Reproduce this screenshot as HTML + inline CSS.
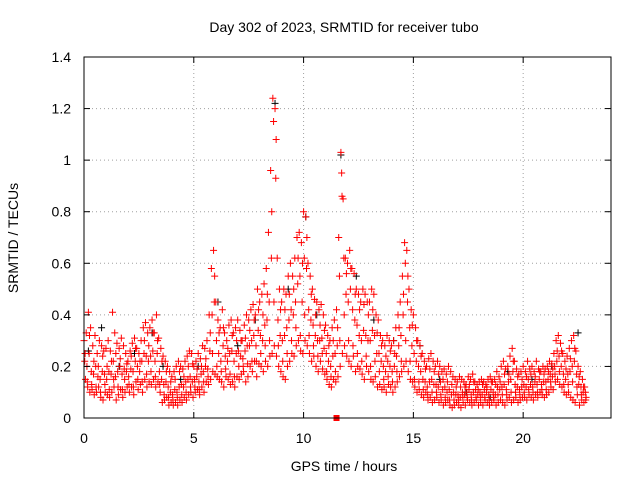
<!DOCTYPE html>
<html><head><meta charset="utf-8"><style>
body{margin:0;background:#fff}
svg text{font-family:"Liberation Sans",sans-serif;font-size:14px;fill:#000}
</style></head><body>
<svg id="chart" width="640" height="480" xmlns="http://www.w3.org/2000/svg">
<rect width="640" height="480" fill="#fff"/>
<g id="grid"></g>
<g id="black"></g>
<g id="red"></g>
<rect x="84" y="57" width="527" height="361" fill="none" stroke="#000" stroke-width="1"/>
<g id="axes"></g>
<text x="344" y="32" text-anchor="middle">Day 302 of 2023, SRMTID for receiver tubo</text>
<text x="344" y="471" text-anchor="middle">GPS time / hours</text>
<text transform="translate(18,238) rotate(-90)" text-anchor="middle">SRMTID / TECUs</text>
</svg>
<script>
const xTicks=[0,5,10,15,20];
const yTicks=[0,0.2,0.4,0.6,0.8,1,1.2,1.4];
const yTickLabels=["0","0.2","0.4","0.6","0.8","1","1.2","1.4"];
const binStart=0, binStep=0.1;
const hi=[.30,.33,.41,.35,.28,.32,.25,.30,.28,.26,
.27,.30,.26,.41,.33,.29,.27,.31,.28,.25,
.22,.26,.29,.31,.27,.25,.30,.35,.37,.33,
.35,.38,.33,.40,.31,.27,.24,.22,.20,.18,
.16,.18,.20,.22,.20,.19,.22,.24,.26,.25,
.20,.22,.25,.23,.28,.27,.30,.40,.58,.65,
.45,.38,.35,.42,.33,.30,.36,.38,.33,.35,
.38,.34,.30,.36,.40,.38,.42,.44,.40,.50,
.45,.48,.52,.58,.72,.96,1.24,1.20,.62,.50,
.45,.50,.48,.55,.60,.55,.62,.70,.72,.68,
.80,.78,.60,.55,.50,.46,.45,.42,.44,.40,
.36,.32,.30,.35,.38,.42,.70,1.03,.85,.62,
.60,.65,.58,.56,.50,.48,.45,.50,.48,.45,
.45,.50,.48,.40,.38,.32,.30,.28,.32,.30,
.28,.30,.35,.40,.45,.55,.68,.65,.50,.42,
.40,.35,.30,.28,.25,.22,.20,.23,.25,.22,
.20,.22,.20,.18,.19,.17,.20,.18,.16,.15,
.14,.16,.15,.14,.13,.16,.15,.17,.14,.13,
.14,.15,.14,.13,.15,.16,.14,.15,.18,.16,
.20,.22,.19,.20,.24,.27,.22,.19,.17,.18,
.20,.18,.22,.19,.20,.18,.22,.19,.18,.20,
.19,.20,.22,.21,.25,.30,.32,.29,.25,.22,
.24,.27,.30,.32,.26,.20,.18,.15,.12];
const mid=[.22,.20,.25,.18,.17,.20,.16,.15,.18,.17,
.15,.18,.17,.22,.16,.18,.20,.17,.19,.18,
.16,.19,.18,.22,.20,.18,.22,.25,.24,.22,
.24,.26,.22,.25,.18,.15,.13,.14,.12,.10,
.09,.11,.10,.12,.13,.12,.14,.15,.16,.14,
.15,.16,.14,.17,.18,.20,.19,.26,.40,.45,
.30,.25,.22,.28,.24,.22,.25,.26,.22,.25,
.26,.24,.23,.26,.28,.28,.30,.32,.28,.34,
.32,.30,.36,.38,.45,.62,1.15,.93,.38,.32,
.30,.32,.35,.38,.42,.40,.45,.52,.55,.45,
.62,.58,.42,.38,.36,.32,.30,.30,.31,.27,
.25,.22,.20,.24,.25,.28,.55,.95,.62,.48,
.45,.50,.42,.38,.36,.32,.30,.34,.32,.30,
.30,.34,.32,.25,.25,.22,.20,.18,.22,.20,
.18,.20,.24,.28,.32,.40,.60,.45,.35,.28,
.25,.22,.20,.18,.15,.14,.12,.14,.15,.13,
.13,.12,.14,.11,.12,.10,.11,.09,.10,.09,
.09,.08,.10,.09,.10,.11,.09,.10,.11,.09,
.10,.09,.11,.10,.09,.11,.10,.09,.12,.11,
.12,.13,.11,.14,.15,.18,.13,.12,.11,.12,
.13,.12,.15,.13,.12,.14,.13,.15,.13,.14,
.14,.15,.17,.16,.20,.22,.24,.20,.17,.15,
.17,.18,.20,.22,.17,.13,.12,.10,.10];
const lo=[.15,.12,.10,.11,.09,.10,.12,.08,.07,.10,
.09,.08,.10,.12,.07,.09,.11,.08,.10,.12,
.10,.12,.09,.14,.11,.13,.10,.15,.12,.14,
.13,.15,.12,.14,.10,.06,.07,.08,.05,.06,
.05,.06,.05,.07,.06,.08,.07,.09,.10,.08,
.10,.11,.09,.12,.10,.14,.13,.15,.18,.17,
.16,.15,.14,.12,.16,.15,.13,.14,.12,.16,
.15,.17,.18,.14,.16,.20,.18,.22,.16,.21,
.20,.18,.22,.20,.24,.25,.28,.24,.20,.18,
.16,.15,.20,.22,.25,.24,.28,.30,.26,.25,
.30,.28,.25,.22,.24,.20,.18,.22,.19,.17,
.15,.13,.12,.15,.14,.16,.20,.25,.28,.24,
.22,.20,.24,.18,.20,.19,.17,.15,.20,.18,
.15,.14,.16,.12,.13,.11,.12,.10,.13,.12,
.10,.12,.14,.16,.18,.20,.22,.18,.15,.14,
.12,.10,.11,.09,.08,.10,.07,.08,.06,.07,
.08,.06,.07,.05,.06,.07,.05,.04,.05,.06,
.05,.04,.06,.05,.07,.06,.05,.06,.07,.05,
.06,.05,.07,.06,.05,.06,.07,.05,.06,.07,
.06,.05,.07,.08,.06,.07,.08,.06,.07,.08,
.08,.07,.09,.08,.07,.09,.08,.10,.09,.08,
.09,.10,.12,.11,.14,.15,.13,.12,.10,.09,
.10,.08,.07,.06,.09,.05,.07,.06,.08];
const scatter=[.25,.14,.32,.13,.22,.12,.20,.10,.24,.13,
.20,.11,.22,.15,.25,.12,.23,.11,.15,.21,
.13,.24,.12,.27,.15,.22,.14,.30,.17,.28,
.18,.33,.16,.30,.13,.22,.09,.18,.08,.14,
.07,.15,.08,.18,.09,.16,.10,.20,.12,.21,
.12,.19,.11,.20,.14,.23,.16,.33,.25,.55,
.20,.33,.18,.35,.19,.27,.17,.32,.16,.30,
.20,.30,.20,.31,.21,.34,.22,.38,.22,.42,
.25,.40,.28,.48,.30,.80,.45,1.08,.28,.42,
.22,.42,.25,.48,.30,.50,.35,.62,.32,.60,
.40,.70,.32,.48,.28,.40,.24,.36,.25,.34,
.18,.28,.16,.30,.18,.35,.30,.86,.40,.56,
.30,.58,.28,.48,.25,.42,.22,.44,.24,.40,
.20,.42,.22,.33,.18,.28,.15,.24,.16,.26,
.14,.25,.18,.35,.22,.48,.30,.55,.22,.36,
.15,.30,.14,.24,.11,.19,.09,.19,.10,.18,
.10,.17,.09,.15,.08,.14,.07,.13,.07,.12,
.07,.12,.08,.12,.08,.13,.07,.14,.08,.11,
.08,.13,.08,.12,.07,.14,.08,.13,.09,.14,
.09,.17,.09,.17,.10,.22,.10,.16,.09,.15,
.10,.16,.11,.17,.10,.16,.10,.18,.11,.17,
.11,.18,.14,.19,.17,.26,.18,.26,.13,.19,
.13,.23,.14,.27,.12,.16,.09,.12,.07];
const blackHours=[0.2,0.8,1.6,2.3,3.1,3.6,4.4,5.2,6.1,7.0,7.8,8.7,9.3,10.1,10.6,11.7,12.4,13.2,14.1,15.3,16.2,17.4,18.5,19.3,20.4,21.3,22.5];
const blackVals=[0.26,0.35,0.20,0.25,0.33,0.20,0.15,0.20,0.45,0.28,0.38,1.22,0.50,0.78,0.40,1.02,0.55,0.38,0.30,0.28,0.15,0.10,0.08,0.18,0.15,0.20,0.33];
const squareHour=11.5, squareVal=0;

const X=h=>84+h*(527/24);
const Y=v=>418-v*(361/1.4);
const NS="http://www.w3.org/2000/svg";
function mk(tag,attrs,parent){const e=document.createElementNS(NS,tag);for(const k in attrs)e.setAttribute(k,attrs[k]);parent.appendChild(e);return e;}
const grid=document.getElementById('grid'),axes=document.getElementById('axes');
xTicks.forEach(t=>{
  const g=mk('line',{x1:X(t),x2:X(t),y1:57,y2:418,stroke:'#a0a0a0','stroke-dasharray':'1,3'},grid);
  
  
  mk('line',{x1:X(t),x2:X(t),y1:418,y2:412,stroke:'#000'},axes);
  mk('line',{x1:X(t),x2:X(t),y1:57,y2:63,stroke:'#000'},axes);
  const tx=mk('text',{x:X(t),y:443,'text-anchor':'middle'},axes);tx.textContent=t;
  
  
});
yTicks.forEach((t,i)=>{
  const g=mk('line',{x1:84,x2:611,y1:Y(t),y2:Y(t),stroke:'#a0a0a0','stroke-dasharray':'1,3'},grid);
  
  
  mk('line',{x1:84,x2:90,y1:Y(t),y2:Y(t),stroke:'#000'},axes);
  mk('line',{x1:605,x2:611,y1:Y(t),y2:Y(t),stroke:'#000'},axes);
  const tx=mk('text',{x:71,y:Y(t)+5,'text-anchor':'end'},axes);tx.textContent=yTickLabels[i];
  
  
});
function plus(h,v,col,parent){
  const x=X(h),y=Y(v);
  const p=mk('path',{d:`M${x-3.5},${y}H${x+3.5}M${x},${y-3.5}V${y+3.5}`,stroke:col,'stroke-width':1,fill:'none'},parent);
  
  
}
const blk=document.getElementById('black'),red=document.getElementById('red');
blackHours.forEach((h,i)=>plus(h,blackVals[i],'#000',blk));
const offsets=[0,0.033,0.066,0.05];
[hi,mid,lo,scatter].forEach((arr,k)=>arr.forEach((v,i)=>plus(binStart+i*binStep+offsets[k],v,'#ff0000',red)));
const sq=mk('rect',{x:X(squareHour)-3,y:Y(squareVal)-3,width:6,height:6,fill:'#ff0000'},red);


</script>
</body></html>
